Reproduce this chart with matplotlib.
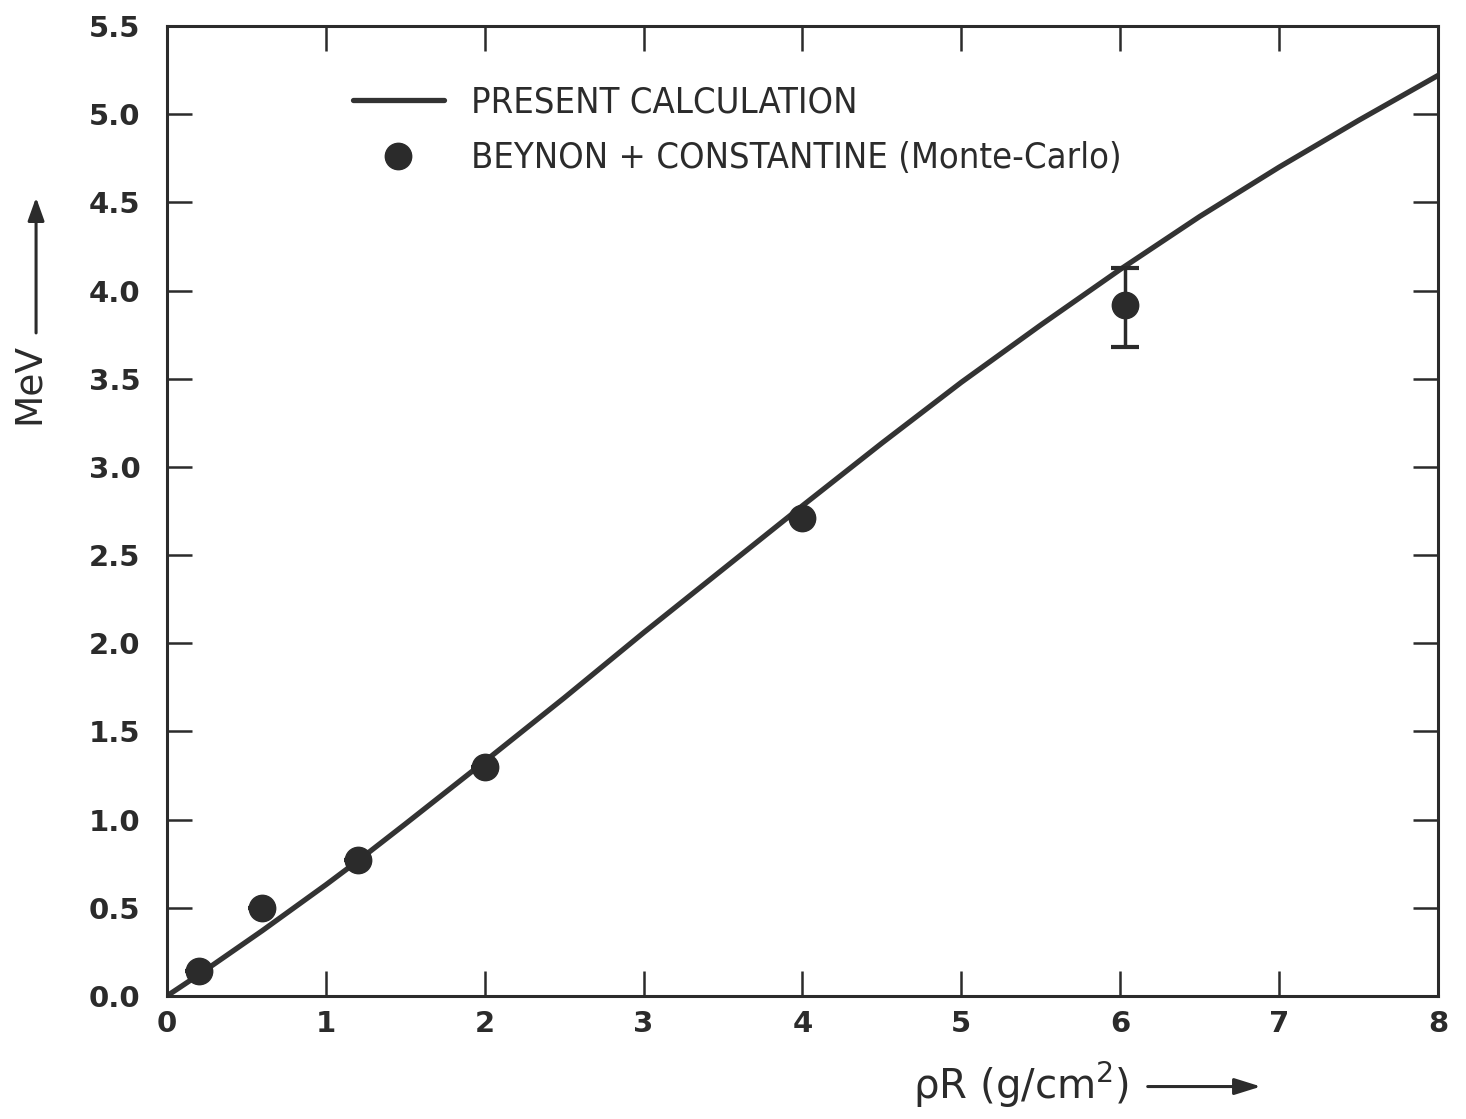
import matplotlib.pyplot as plt
from matplotlib.patches import FancyArrowPatch

# present calculation (curve)
calc_x = [0.0, 0.2, 0.6, 1.0, 1.2, 1.5, 2.0, 2.5, 3.0, 3.5, 4.0,
          4.5, 5.0, 5.5, 6.0, 6.5, 7.0, 7.5, 8.0]
calc_y = [0.0, 0.12, 0.37, 0.63, 0.765, 0.975, 1.33, 1.69, 2.06, 2.42, 2.78,
          3.135, 3.48, 3.805, 4.12, 4.42, 4.70, 4.965, 5.22]

# Beynon + Constantine (Monte-Carlo)
mc_x = [0.2, 0.6, 1.2, 2.0, 4.0, 6.03]
mc_y = [0.14, 0.50, 0.77, 1.30, 2.71, 3.92]
mc_lo = [0, 0, 0, 0, 0, 0.24]
mc_hi = [0, 0, 0, 0, 0, 0.21]

xticks = [0, 1, 2, 3, 4, 5, 6, 7, 8]
yticks = [0.0, 0.5, 1.0, 1.5, 2.0, 2.5, 3.0, 3.5, 4.0, 4.5, 5.0, 5.5]

ink = '#2b2b2b'
plt.rcParams['font.family'] = ['DejaVu Sans']

fig = plt.figure(figsize=(14.66, 11.19), dpi=100)
ax = fig.add_axes([0.1139, 0.110, 0.8670, 0.8667])

line, = ax.plot(calc_x, calc_y, '-', color='#333333', lw=3.8,
                solid_capstyle='round', solid_joinstyle='round',
                label='PRESENT CALCULATION')
ax.errorbar(mc_x, mc_y, yerr=[mc_lo, mc_hi], fmt='none', ecolor=ink,
            elinewidth=2.5, capsize=10, capthick=3)
pts, = ax.plot(mc_x, mc_y, 'o', color=ink, ms=19, ls='none',
               label='BEYNON + CONSTANTINE (Monte-Carlo)')

ax.set_xlim(0, 8)
ax.set_ylim(0, 5.5)
ax.set_xticks(xticks)
ax.set_yticks(yticks)
ax.set_xticklabels([str(t) for t in xticks])
ax.set_yticklabels(['%.1f' % t for t in yticks])
ax.tick_params(direction='in', length=18, width=1.8, top=True, right=True,
               labelsize=21, colors=ink)
ax.tick_params(axis='y', pad=19)
ax.tick_params(axis='x', pad=10)
for lab in ax.get_xticklabels() + ax.get_yticklabels():
    lab.set_fontweight('bold')
for s in ax.spines.values():
    s.set_linewidth(2.2)
    s.set_color(ink)

leg = ax.legend(handles=[line, pts], loc='upper left', bbox_to_anchor=(0.121, 0.972),
                frameon=False, fontsize=26, handlelength=2.5, handletextpad=0.75,
                labelspacing=0.6, markerscale=1.0)
for t in leg.get_texts():
    t.set_color(ink)
    t.set_fontstretch('condensed')

# axis labels with arrows, as in the original
fig.text(0.020, 0.657, 'MeV', rotation=90, fontsize=27, color=ink,
         ha='center', va='center')
fig.patches.append(FancyArrowPatch(
    (0.0246, 0.700), (0.0246, 0.826), transform=fig.transFigure,
    arrowstyle='-|>,head_length=14,head_width=5', lw=2.2, color=ink))
fig.text(0.623, 0.030, 'ρR (g/cm$^2$)', fontsize=29, color=ink,
         ha='left', va='center')
fig.patches.append(FancyArrowPatch(
    (0.781, 0.029), (0.862, 0.029), transform=fig.transFigure,
    arrowstyle='-|>,head_length=16,head_width=5', lw=2.2, color=ink))

fig.savefig('out.png', dpi=100)
